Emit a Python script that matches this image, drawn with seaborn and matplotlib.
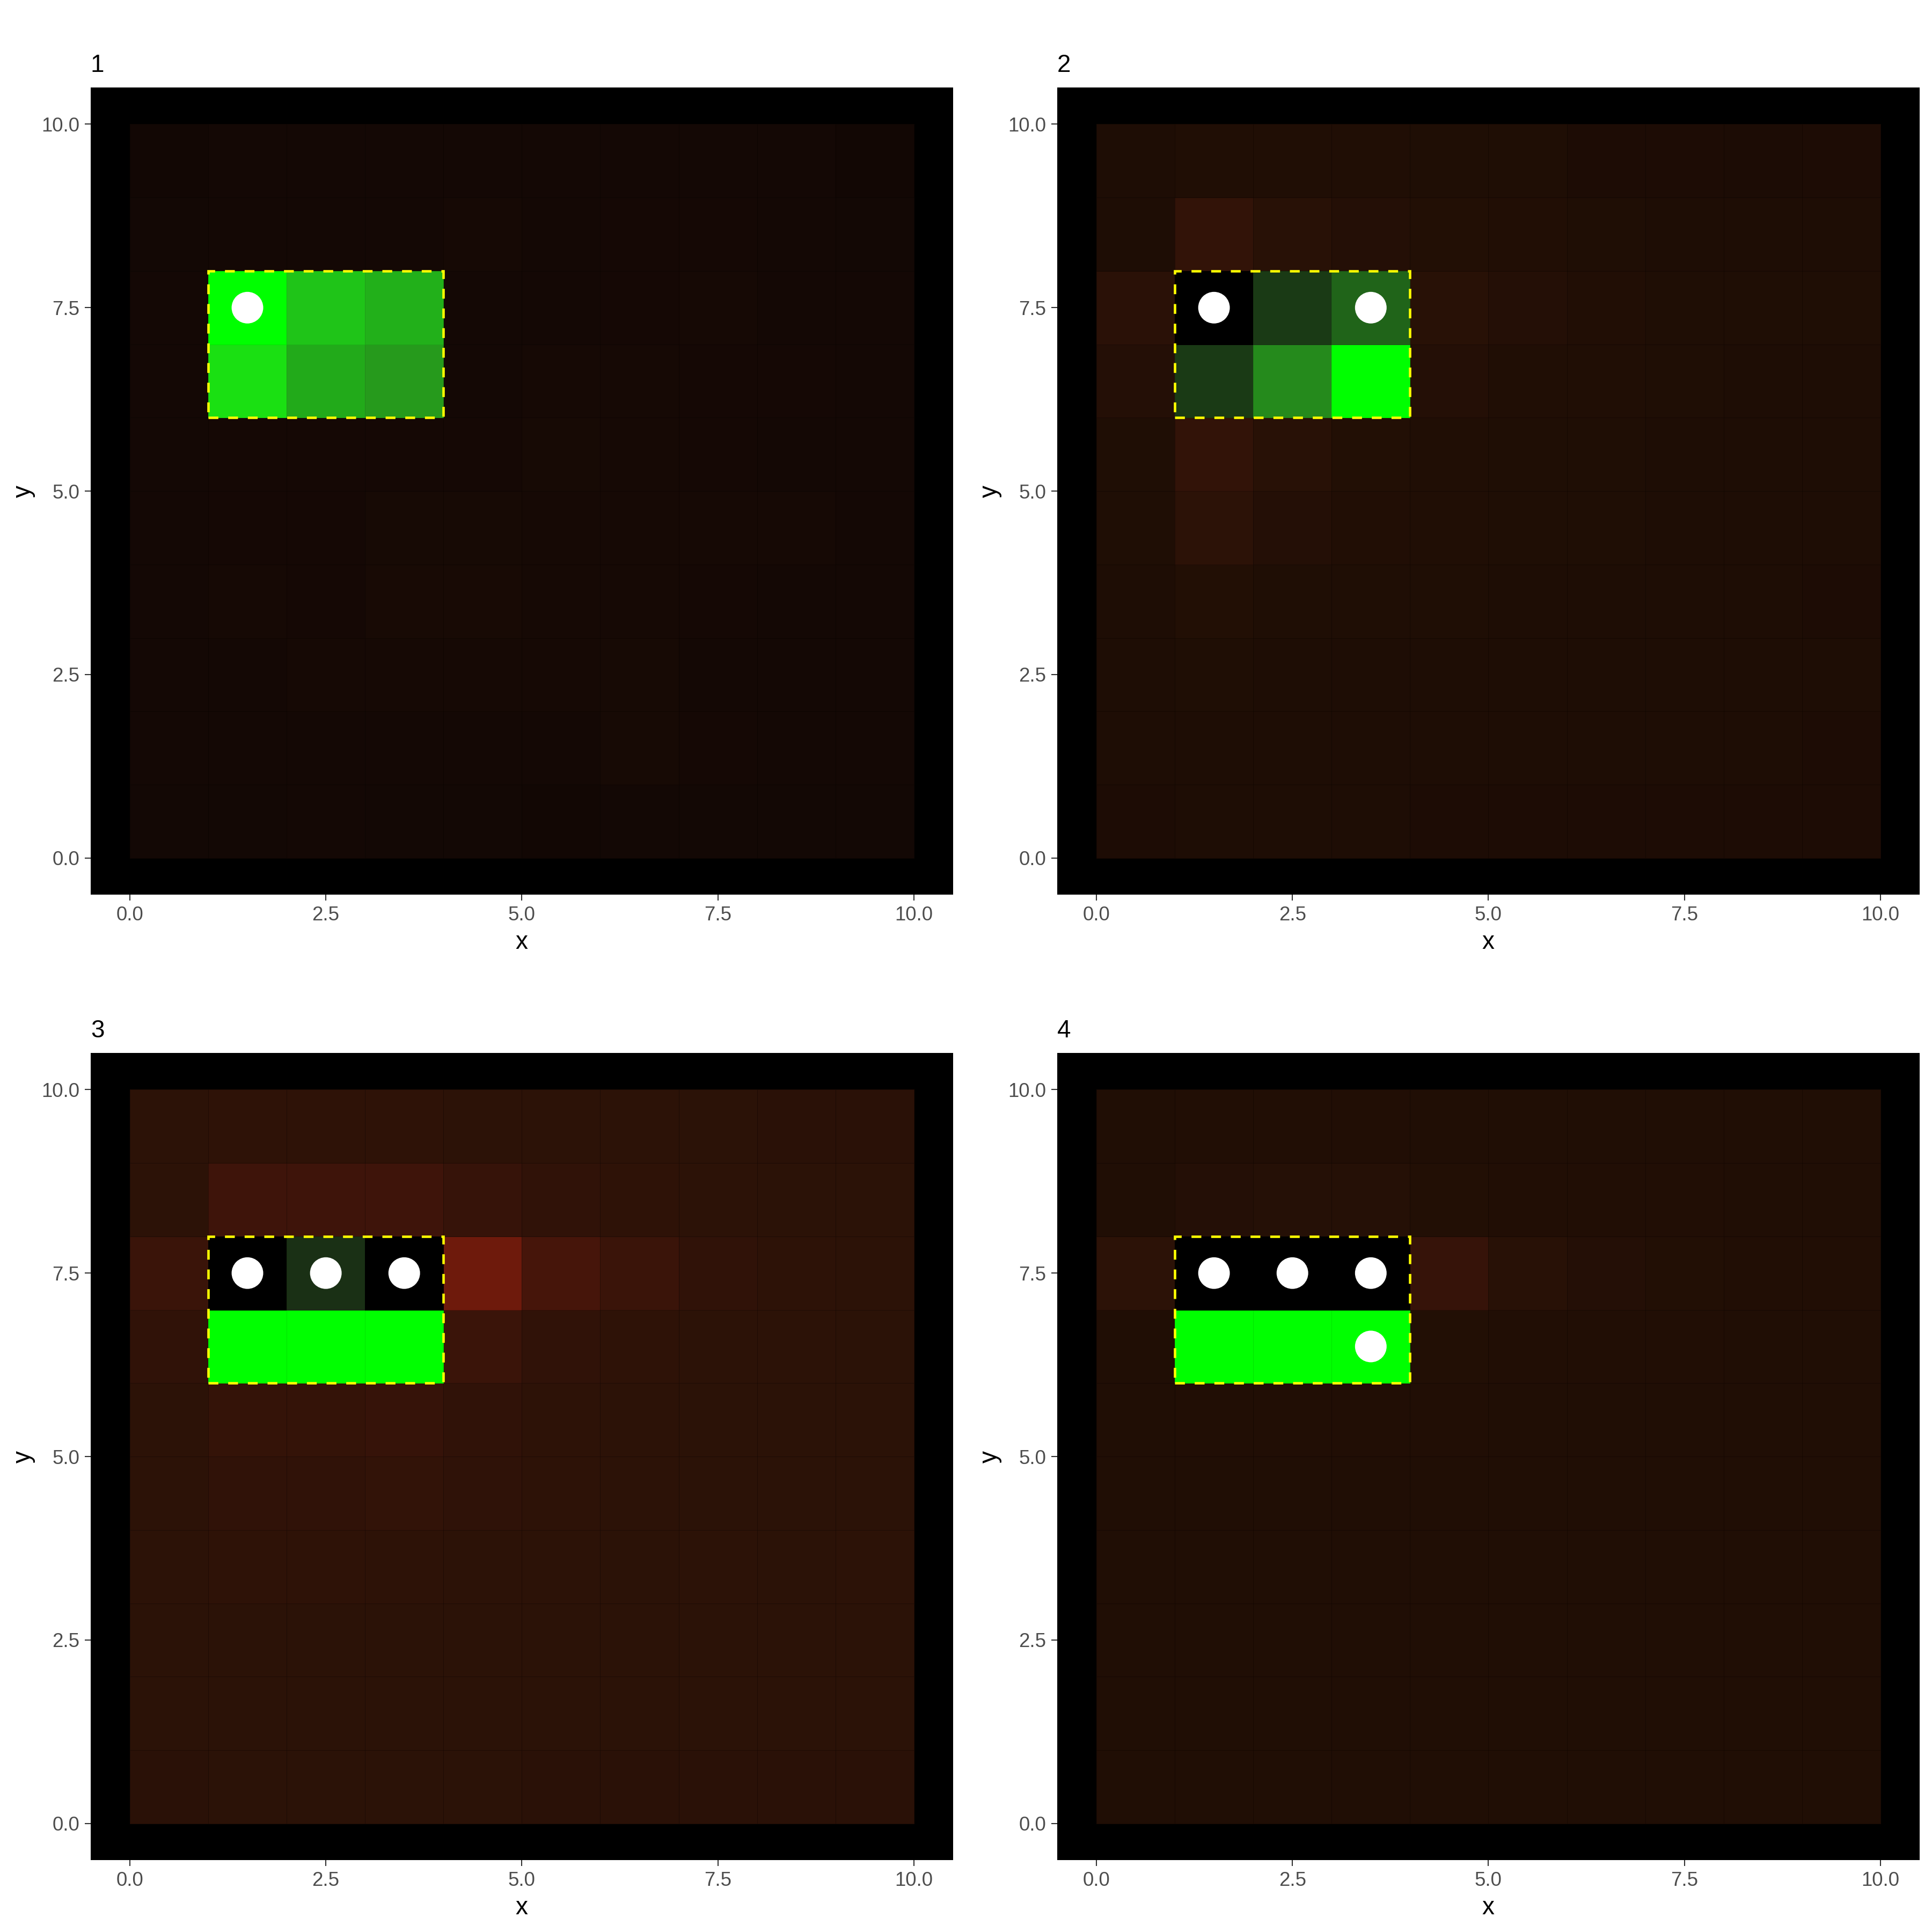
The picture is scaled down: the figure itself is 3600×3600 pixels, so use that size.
import numpy as np
import matplotlib
matplotlib.use("Agg")
import matplotlib.pyplot as plt
import seaborn as sns
from matplotlib.colors import LinearSegmentedColormap
from matplotlib.patches import Rectangle

panel_titles = ["1", "2", "3", "4"]

# red "heat" of each cell, rows from y=9 (top) down to y=0, columns x=0..9
heat_1 = [
    [18, 20, 20, 20, 20, 20, 20, 20, 20, 18],
    [19, 20, 20, 20, 22, 20, 21, 21, 20, 19],
    [20, 20, 20, 20, 20, 20, 21, 22, 20, 20],
    [20, 20, 20, 20, 20, 22, 22, 21, 21, 20],
    [20, 21, 21, 21, 21, 23, 22, 21, 20, 20],
    [20, 21, 21, 23, 23, 22, 22, 22, 22, 20],
    [20, 22, 21, 24, 24, 22, 22, 21, 20, 20],
    [20, 20, 22, 22, 22, 22, 23, 20, 20, 20],
    [20, 20, 20, 20, 20, 20, 23, 21, 20, 20],
    [19, 19, 20, 19, 19, 18, 19, 19, 19, 19],
]
heat_2 = [
    [30, 32, 32, 32, 31, 31, 29, 29, 28, 29],
    [30, 50, 40, 36, 34, 33, 31, 30, 30, 30],
    [42, 30, 30, 30, 40, 36, 33, 31, 31, 31],
    [36, 30, 30, 30, 36, 32, 32, 31, 30, 30],
    [31, 50, 40, 34, 32, 31, 31, 30, 30, 30],
    [31, 44, 36, 33, 32, 31, 31, 30, 30, 30],
    [30, 34, 31, 31, 31, 30, 30, 30, 30, 29],
    [30, 31, 30, 30, 30, 30, 30, 30, 30, 30],
    [30, 30, 30, 30, 30, 30, 30, 30, 30, 29],
    [29, 30, 30, 30, 29, 29, 29, 29, 29, 29],
]
heat_3 = [
    [44, 46, 46, 46, 44, 44, 44, 43, 42, 42],
    [44, 62, 62, 62, 54, 48, 46, 44, 43, 43],
    [58, 44, 44, 44, 110, 70, 58, 48, 45, 44],
    [48, 44, 44, 44, 58, 48, 46, 44, 44, 43],
    [44, 52, 52, 54, 48, 45, 44, 43, 43, 43],
    [44, 48, 48, 50, 47, 45, 44, 43, 43, 43],
    [44, 46, 46, 45, 44, 44, 43, 44, 43, 44],
    [43, 43, 43, 43, 43, 43, 43, 43, 43, 43],
    [43, 43, 43, 43, 43, 43, 43, 43, 43, 43],
    [42, 43, 43, 43, 43, 42, 42, 42, 42, 42],
]
heat_4 = [
    [32, 33, 33, 33, 32, 32, 32, 32, 32, 32],
    [32, 36, 37, 37, 34, 33, 33, 33, 32, 32],
    [44, 32, 32, 32, 54, 40, 36, 34, 33, 33],
    [32, 32, 32, 32, 34, 33, 33, 33, 32, 32],
    [32, 33, 33, 33, 33, 32, 32, 32, 32, 32],
    [32, 32, 32, 32, 32, 32, 32, 32, 32, 32],
    [32, 32, 32, 32, 32, 32, 32, 32, 32, 32],
    [32, 32, 32, 32, 32, 32, 32, 32, 32, 32],
    [32, 32, 32, 32, 32, 32, 32, 32, 32, 32],
    [32, 32, 32, 32, 32, 32, 32, 32, 32, 32],
]

# green level inside the dashed box, rows y=7 then y=6, columns x=1..3
green_1 = [[255, 196, 176], [224, 170, 154]]
green_2 = [[0, 58, 100], [58, 138, 255]]
green_3 = [[0, 48, 0], [255, 255, 255]]
green_4 = [[0, 0, 0], [255, 255, 255]]

# white dots (cell centres)
dots_x_1 = [1.5]
dots_y_1 = [7.5]
dots_x_2 = [1.5, 3.5]
dots_y_2 = [7.5, 7.5]
dots_x_3 = [1.5, 2.5, 3.5]
dots_y_3 = [7.5, 7.5, 7.5]
dots_x_4 = [1.5, 2.5, 3.5, 3.5]
dots_y_4 = [7.5, 7.5, 7.5, 6.5]

box_x = [1, 4]
box_y = [6, 8]

axis_ticks = [0.0, 2.5, 5.0, 7.5, 10.0]

heat_cmap = LinearSegmentedColormap.from_list("heat", [
    (0.0, "#000000"),
    (20 / 120, "#140805"),
    (32 / 120, "#200e05"),
    (44 / 120, "#2c1207"),
    (62 / 120, "#3e140a"),
    (110 / 120, "#6e1a0c"),
    (1.0, "#781b0d"),
])
green_cmap = LinearSegmentedColormap.from_list("greens", [
    (0.0, "#000000"),
    (48 / 255, "#1a3015"),
    (58 / 255, "#1a3a15"),
    (100 / 255, "#206419"),
    (138 / 255, "#258a1c"),
    (154 / 255, "#269a1c"),
    (170 / 255, "#22aa1a"),
    (176 / 255, "#22b01a"),
    (196 / 255, "#1fc418"),
    (224 / 255, "#1ae012"),
    (1.0, "#00ff00"),
])


def draw_panel(ax, heat, green, dots_x, dots_y, title):
    ax.set_facecolor("black")

    heat_grid = np.array(heat, dtype=float)[::-1]
    sns.heatmap(heat_grid, ax=ax, cmap=heat_cmap, vmin=0, vmax=120,
                cbar=False, linewidths=0.2, linecolor=(0, 0, 0, 0.12))

    green_grid = np.full(heat_grid.shape, np.nan)
    green_grid[box_y[0]:box_y[1], box_x[0]:box_x[1]] = np.array(green, dtype=float)[::-1]
    sns.heatmap(green_grid, ax=ax, cmap=green_cmap, vmin=0, vmax=255,
                cbar=False, linewidths=0.2, linecolor=(0, 0, 0, 0.1))

    box = Rectangle((box_x[0], box_y[0]), box_x[1] - box_x[0], box_y[1] - box_y[0],
                    fill=False, edgecolor="#ffff00", linewidth=1.1,
                    linestyle=(0, (4, 4)), zorder=4)
    ax.add_patch(box)

    sns.scatterplot(x=dots_x, y=dots_y, ax=ax, color="white", s=200,
                    edgecolor="none", linewidth=0, zorder=5, legend=False)

    ax.set_xlim(-0.5, 10.5)
    ax.set_ylim(-0.5, 10.5)
    ax.set_xticks(axis_ticks)
    ax.set_yticks(axis_ticks)
    ax.set_xticklabels([f"{t:.1f}" for t in axis_ticks], rotation=0)
    ax.set_yticklabels([f"{t:.1f}" for t in axis_ticks], rotation=0,
                       va="center_baseline")
    for side in ["bottom", "top", "left", "right"]:
        ax.spines[side].set_visible(False)
    ax.tick_params(axis="both", length=2.75, width=0.5, color="#333333",
                   labelcolor="#4d4d4d", labelsize=8.8, pad=2.2,
                   bottom=True, left=True)
    ax.set_xlabel("x", fontsize=11, color="black", labelpad=2.75)
    ax.set_ylabel("y", fontsize=11, color="black", labelpad=2.75)
    ax.set_title(title, loc="left", fontsize=11, color="black", pad=7)


sns.set_theme(style="white")
plt.rcParams["font.family"] = ["Liberation Sans", "DejaVu Sans"]

fig = plt.figure(figsize=(12, 12), dpi=300, facecolor="white")

positions = [
    [0.0469, 0.5369, 0.4464, 0.4178],
    [0.5472, 0.5369, 0.4464, 0.4178],
    [0.0469, 0.0372, 0.4464, 0.4178],
    [0.5472, 0.0372, 0.4464, 0.4178],
]
heats = [heat_1, heat_2, heat_3, heat_4]
greens = [green_1, green_2, green_3, green_4]
dots_x = [dots_x_1, dots_x_2, dots_x_3, dots_x_4]
dots_y = [dots_y_1, dots_y_2, dots_y_3, dots_y_4]

for i in range(4):
    ax = fig.add_axes(positions[i])
    draw_panel(ax, heats[i], greens[i], dots_x[i], dots_y[i], panel_titles[i])

fig.savefig("out.png", dpi=300, facecolor="white")
